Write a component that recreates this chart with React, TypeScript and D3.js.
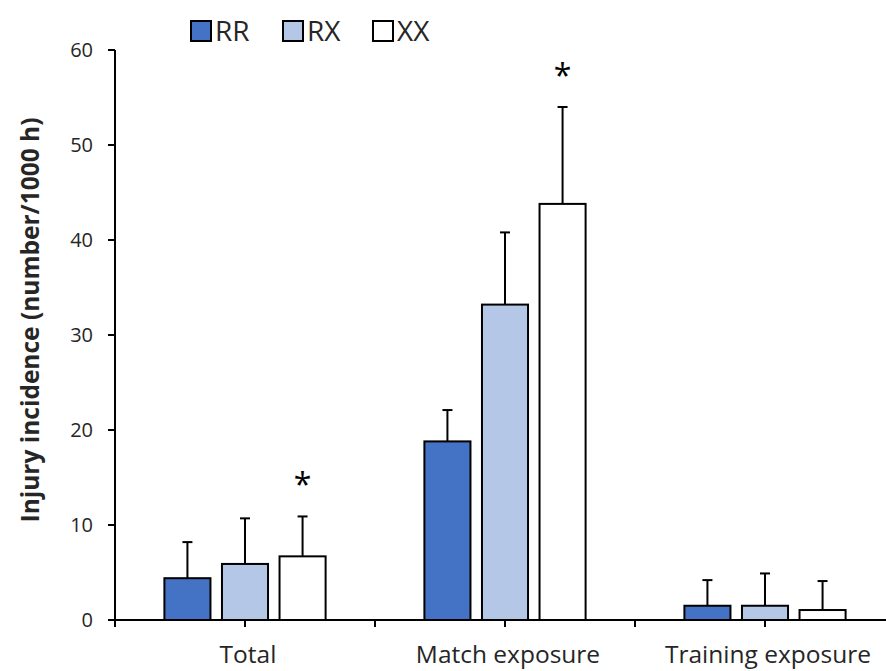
import React from "react";
import * as d3 from "d3";

const categories = ["Total", "Match exposure", "Training exposure"];
const series = ["RR", "RX", "XX"];
const colors = ["#4472C4", "#B4C7E7", "#FFFFFF"];
const meanRR = [4.4, 18.8, 1.5];
const meanRX = [5.9, 33.2, 1.5];
const meanXX = [6.7, 43.8, 1.05];
const errRR = [3.8, 3.3, 2.7];
const errRX = [4.8, 7.6, 3.4];
const errXX = [4.2, 10.2, 3.05];
const sigRR = [false, false, false];
const sigRX = [false, false, false];
const sigXX = [true, true, false];
const yTicks = [0, 10, 20, 30, 40, 50, 60];

const W = 886;
const H = 671;
const FONT = "'Open Sans', 'Liberation Sans', sans-serif";

export default function App() {
  const means = [meanRR, meanRX, meanXX];
  const errs = [errRR, errRX, errXX];
  const sigs = [sigRR, sigRX, sigXX];
  const y = d3.scaleLinear().domain([0, 60]).range([620, 50]);
  const x0 = d3.scaleBand().domain(categories).range([115, 895]).padding(0);
  const cw = x0.bandwidth();
  const x1 = d3
    .scaleBand()
    .domain(series)
    .range([cw * 0.19, cw * 0.81])
    .paddingInner(0.2)
    .paddingOuter(0);
  const bw = x1.bandwidth();
  const xTicks: number[] = [];
  categories.forEach((c) => {
    xTicks.push(x0(c)!);
    xTicks.push(x0(c)! + cw / 2);
  });
  xTicks.push(x0(categories[categories.length - 1])! + cw);
  const legendX = [191, 283, 373];

  return (
    <svg
      width={W}
      height={H}
      style={{ position: "absolute", left: 0, top: 0, background: "#fff" }}
      fontFamily={FONT}
    >
      <rect width={W} height={H} fill="#fff" />
      {/* y axis */}
      <line x1={115} x2={115} y1={y(60)} y2={y(0)} stroke="#000" strokeWidth={2} />
      {yTicks.map((t) => (
        <g key={t}>
          <line x1={108} x2={115} y1={y(t)} y2={y(t)} stroke="#000" strokeWidth={2} />
          <text x={93} y={y(t)} dy="0.35em" textAnchor="end" fontSize={20} fill="#262626">
            {t}
          </text>
        </g>
      ))}
      <text
        transform={`translate(30,320) rotate(-90)`}
        textAnchor="middle"
        dy="0.35em"
        fontSize={24.5}
        fontWeight="bold"
        fill="#262626"
      >
        Injury incidence (number/1000 h)
      </text>
      {/* bars */}
      {categories.map((c, ci) =>
        series.map((s, si) => {
          const bx = x0(c)! + x1(s)!;
          const v = means[si][ci];
          const e = errs[si][ci];
          const cx = bx + bw / 2;
          return (
            <g key={c + s}>
              <line x1={cx} x2={cx} y1={y(v)} y2={y(v + e)} stroke="#000" strokeWidth={2} />
              <line x1={cx - 5} x2={cx + 5} y1={y(v + e)} y2={y(v + e)} stroke="#000" strokeWidth={2} />
              <rect
                x={bx}
                y={y(v)}
                width={bw}
                height={y(0) - y(v)}
                fill={colors[si]}
                stroke="#000"
                strokeWidth={2}
              />
              {sigs[si][ci] && (
                <text x={cx} y={y(v + e) - 20} textAnchor="middle" fontSize={32} fill="#000">
                  *
                </text>
              )}
            </g>
          );
        })
      )}
      {/* x axis */}
      <line x1={115} x2={W} y1={y(0)} y2={y(0)} stroke="#000" strokeWidth={2} />
      {xTicks.map((t, i) => (
        <line key={i} x1={t} x2={t} y1={y(0)} y2={y(0) + 7} stroke="#000" strokeWidth={2} />
      ))}
      {categories.map((c) => (
        <text
          key={c}
          x={x0(c)! + cw / 2 + 3}
          y={663}
          textAnchor="middle"
          fontSize={24.5}
          fill="#262626"
        >
          {c}
        </text>
      ))}
      {/* legend */}
      {series.map((s, i) => {
        const lx = legendX[i];
        return (
          <g key={s}>
            <rect x={lx} y={21} width={20} height={20} fill={colors[i]} stroke="#000" strokeWidth={2} />
            <text x={lx + 24} y={31} dy="0.36em" fontSize={28} fill="#262626">
              {s}
            </text>
          </g>
        );
      })}
    </svg>
  );
}
